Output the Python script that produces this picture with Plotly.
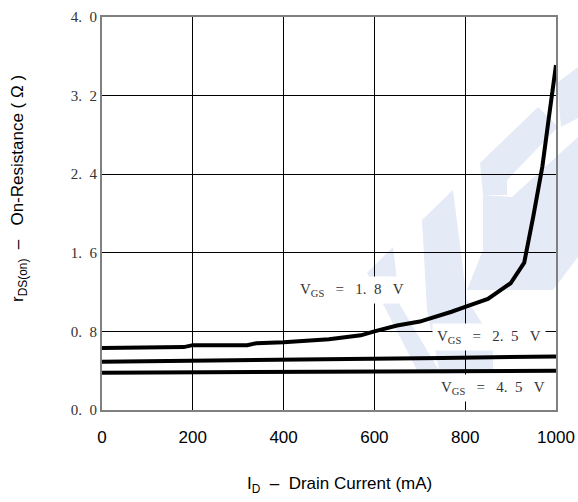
import plotly.graph_objects as go

# Data
id_18 = [0, 50, 100, 180, 200, 320, 340, 400, 500, 570, 600, 650, 700, 730, 770, 800, 850, 900, 930, 950, 970, 985, 1000]
r_18 = [0.63, 0.63, 0.64, 0.64, 0.66, 0.66, 0.68, 0.69, 0.72, 0.76, 0.80, 0.86, 0.90, 0.94, 1.00, 1.05, 1.13, 1.29, 1.50, 1.97, 2.48, 3.00, 3.51]
id_25 = [0, 250, 500, 750, 1000]
r_25 = [0.49, 0.50, 0.515, 0.53, 0.545]
id_45 = [0, 250, 500, 750, 1000]
r_45 = [0.38, 0.385, 0.39, 0.395, 0.40]

x_ticks = [0, 200, 400, 600, 800, 1000]
y_ticks = [0.0, 0.8, 1.6, 2.4, 3.2, 4.0]
NB = "\u00a0"
y_ticktext = [f"{v:.1f}".replace(".", "." + NB + NB) for v in y_ticks]

label_text = ["1.8", "2.5", "4.5"]
label_x = [551, 852, 861]
label_y = [1.22, 0.74, 0.22]

# layout geometry (pixels)
W, H = 578, 502
ML, MR, MT, MB = 102, 22, 17, 92
PW, PH = W - ML - MR, H - MT - MB

def px2paper(pts):
    return [((x - ML) / PW, (H - MB - y) / PH) for x, y in pts]

def path(pts):
    p = px2paper(pts)
    return "M " + " L ".join(f"{a:.4f},{b:.4f}" for a, b in p) + " Z"

wm_color = "#e4eaf6"
watermark = [
    [(480, 163), (538, 107), (558, 127), (507, 180), (507, 195), (483, 195)],
    [(483, 195), (512, 197), (578, 137), (578, 257), (553, 290), (467, 290), (483, 250)],
    [(557, 83), (578, 67), (578, 118), (561, 127)],
    [(422, 220), (453, 190), (467, 300), (493, 340), (493, 372), (440, 374), (427, 310)],
    [(367, 273), (393, 247), (400, 305), (440, 372), (418, 372)],
]

fig = go.Figure()
line = dict(color="black", width=4)
fig.add_trace(go.Scatter(x=id_18, y=r_18, mode="lines", line=line, showlegend=False))
fig.add_trace(go.Scatter(x=id_25, y=r_25, mode="lines", line=line, showlegend=False))
fig.add_trace(go.Scatter(x=id_45, y=r_45, mode="lines", line=line, showlegend=False))

shapes = []
for poly in watermark:
    shapes.append(dict(type="path", path=path(poly), xref="paper", yref="paper",
                       fillcolor=wm_color, line=dict(width=0), layer="below"))

annotations = []
for t, x, y in zip(label_text, label_x, label_y):
    txt = ("V<sub>GS</sub>" + NB * 3 + "=" + NB * 3 + t.replace(".", "." + NB + NB) + NB * 3 + "V")
    annotations.append(dict(x=x, y=y, xref="x", yref="y", text=txt, showarrow=False,
                            bgcolor="white", font=dict(family="Liberation Serif", size=15, color="#333"),
                            borderpad=4))
annotations.append(dict(x=(19 - ML) / PW, y=(H - MB - 189) / PH, xref="paper", yref="paper",
                        xanchor="center", yanchor="middle",
                        text="r<sub>DS(on)</sub>" + NB * 2 + "–" + NB * 3 + "On-Resistance ( Ω )",
                        textangle=-90, showarrow=False,
                        font=dict(family="Liberation Sans", size=17, color="black")))
annotations.append(dict(x=(339 - ML) / PW, y=(H - MB - 485) / PH, xref="paper", yref="paper",
                        xanchor="center", yanchor="middle",
                        text="I<sub>D</sub>" + NB * 2 + "–" + NB * 2 + "Drain Current (mA)",
                        showarrow=False, font=dict(family="Liberation Sans", size=17, color="black")))

fig.update_layout(
    width=W, height=H,
    margin=dict(l=ML, r=MR, t=MT, b=MB, autoexpand=False),
    paper_bgcolor="white", plot_bgcolor="rgba(0,0,0,0)",
    shapes=shapes, annotations=annotations,
    xaxis=dict(range=[0, 1000], tickvals=x_ticks, showgrid=True, gridcolor="black", gridwidth=1,
               showline=True, linecolor="#808080", linewidth=2, mirror=True, zeroline=False,
               ticks="", ticklabelstandoff=11,
               tickfont=dict(family="Liberation Sans", size=17, color="black")),
    yaxis=dict(range=[0, 4.0], tickvals=y_ticks, ticktext=y_ticktext, showgrid=True,
               gridcolor="black", gridwidth=1, showline=True, linecolor="#808080", linewidth=2,
               mirror=True, zeroline=False, ticks="",
               tickfont=dict(family="Liberation Serif", size=15, color="#333")),
)

fig.write_html("out.html")
